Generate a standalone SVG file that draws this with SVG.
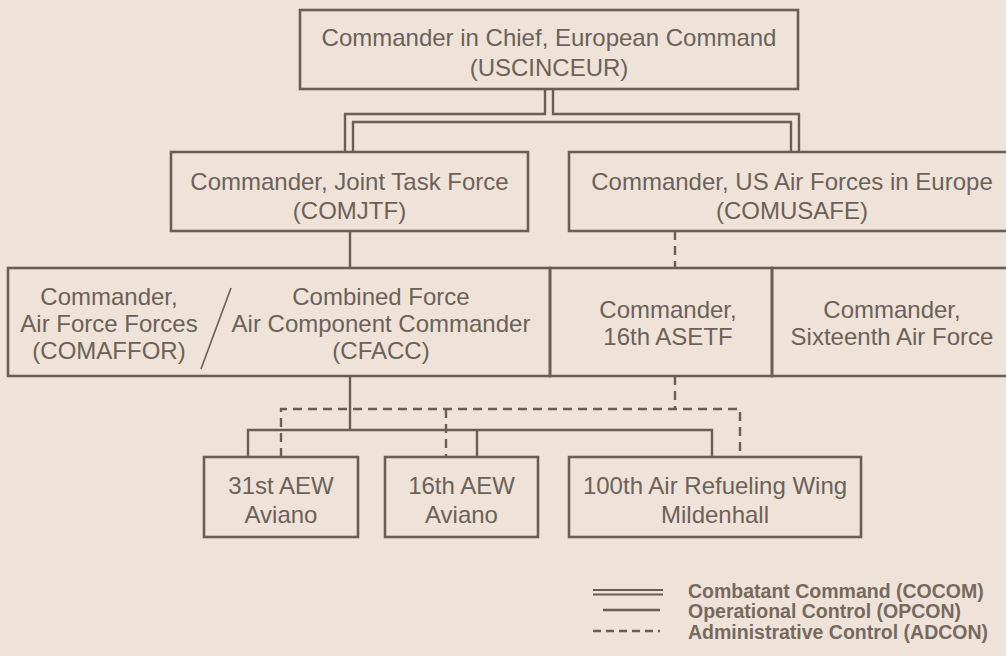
<svg xmlns="http://www.w3.org/2000/svg" width="1006" height="656" viewBox="0 0 1006 656">
<style>
.box{fill:none;stroke:#6a5d53;stroke-width:2.6}
.ln{fill:none;stroke:#6a5d53;stroke-width:2.4}
.dash{fill:none;stroke:#6a5d53;stroke-width:2.4;stroke-dasharray:9 6}
.t{font-family:"Liberation Sans",Arial,sans-serif;font-size:24px;fill:#6c6158;text-anchor:middle}
.lg{font-family:"Liberation Sans",Arial,sans-serif;font-size:19.5px;font-weight:bold;fill:#76695f}
</style>
<rect x="0" y="0" width="1006" height="656" fill="#efe3d9"/>
<g id="connectors">
<path class="ln" d="M545,89 V114 H345 V152"/>
<path class="ln" d="M353,152 V122 H791 V152"/>
<path class="ln" d="M553,89 V114 H799 V152"/>
<path class="ln" d="M350,231 V268"/>
<path class="dash" d="M675,231 V268"/>
<path class="ln" d="M350,376 V430"/>
<path class="ln" d="M248,457 V430 H712 V457"/>
<path class="ln" d="M477,430 V457"/>
<path class="dash" d="M675,376 V409"/>
<path class="dash" d="M281,457 V409 H740 V457"/>
<path class="dash" d="M446,409 V457"/>
</g>
<g id="uscinceur">
<rect class="box" x="300" y="10" width="498" height="79"/>
<text class="t" x="549" y="46">Commander in Chief, European Command</text>
<text class="t" x="549" y="76">(USCINCEUR)</text>
</g>
<g id="comjtf">
<rect class="box" x="171" y="152" width="357" height="79"/>
<text class="t" x="349.5" y="190">Commander, Joint Task Force</text>
<text class="t" x="349.5" y="219">(COMJTF)</text>
</g>
<g id="comusafe">
<rect class="box" x="569" y="152" width="445" height="79"/>
<text class="t" x="792" y="190">Commander, US Air Forces in Europe</text>
<text class="t" x="792" y="219">(COMUSAFE)</text>
</g>
<g id="comaffor-cfacc">
<rect class="box" x="8" y="268" width="542" height="108"/>
<text class="t" x="109" y="305">Commander,</text>
<text class="t" x="109" y="332">Air Force Forces</text>
<text class="t" x="109" y="359">(COMAFFOR)</text>
<line x1="231" y1="288" x2="201" y2="369" stroke="#6a5d53" stroke-width="1.6"/>
<text class="t" x="381" y="305">Combined Force</text>
<text class="t" x="381" y="332">Air Component Commander</text>
<text class="t" x="381" y="359">(CFACC)</text>
</g>
<g id="asetf">
<rect class="box" x="550" y="268" width="222" height="108"/>
<text class="t" x="668" y="318">Commander,</text>
<text class="t" x="668" y="345">16th ASETF</text>
</g>
<g id="sixteenth-af">
<rect class="box" x="772" y="268" width="242" height="108"/>
<text class="t" x="892" y="318">Commander,</text>
<text class="t" x="892" y="345">Sixteenth Air Force</text>
</g>
<g id="aew31">
<rect class="box" x="204" y="457" width="154" height="80"/>
<text class="t" x="281" y="494">31st AEW</text>
<text class="t" x="281" y="523">Aviano</text>
</g>
<g id="aew16">
<rect class="box" x="385" y="457" width="153" height="80"/>
<text class="t" x="461.5" y="494">16th AEW</text>
<text class="t" x="461.5" y="523">Aviano</text>
</g>
<g id="arw100">
<rect class="box" x="569" y="457" width="292" height="80"/>
<text class="t" x="715" y="494">100th Air Refueling Wing</text>
<text class="t" x="715" y="523">Mildenhall</text>
</g>
<g id="legend">
<line x1="593" y1="590" x2="663" y2="590" stroke="#6a5d53" stroke-width="2.2"/>
<line x1="593" y1="594.5" x2="663" y2="594.5" stroke="#6a5d53" stroke-width="2.2"/>
<line x1="603" y1="610" x2="660" y2="610" stroke="#6a5d53" stroke-width="2.4"/>
<line x1="593" y1="631" x2="660" y2="631" stroke="#6a5d53" stroke-width="2.4" stroke-dasharray="8 5"/>
<text class="lg" x="688" y="598">Combatant Command (COCOM)</text>
<text class="lg" x="688" y="618">Operational Control (OPCON)</text>
<text class="lg" x="688" y="639">Administrative Control (ADCON)</text>
</g>
</svg>
